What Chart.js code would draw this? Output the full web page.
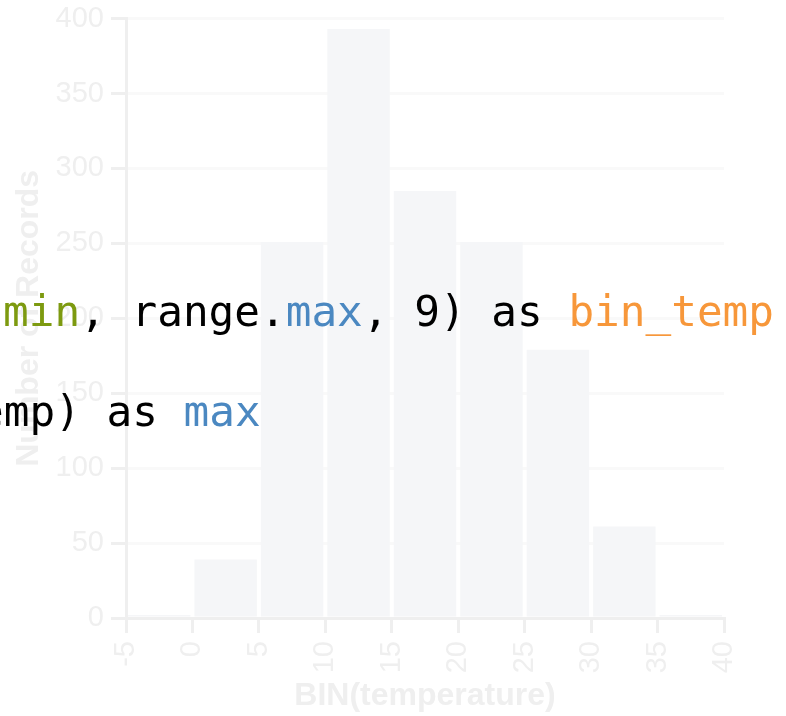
<!DOCTYPE html>
<html>
<head>
<meta charset="utf-8">
<style>
  html, body { margin: 0; padding: 0; background: #fff; }
  #wrap { width: 786px; height: 716px; }
</style>
</head>
<body>
<div id="wrap"><canvas id="hist_chart"></canvas></div>

<script src="https://cdn.jsdelivr.net/npm/chart.js"></script>
<script>
    // bins of width 5, counts
    const bin_starts = [-5, 0, 5, 10, 15, 20, 25, 30, 35];
    const bin_counts = [2, 39, 251, 393, 285, 251, 179, 61, 2];
    const bin_width = 5;

    const x_title = 'BIN(temperature)';
    const y_title = 'Number of Records';

    // code snippet laid over the chart, as [text, colour] runs
    const code_line_1 = [['min', '#7d9a10'], [', range.', '#000'], ['max', '#4b88c1'], [', 9) as ', '#000'], ['bin_temp', '#f7973a']];
    const code_line_2 = [['emp) as ', '#000'], ['max', '#4b88c1']];

    const faint = '#efefef';

    const codeOverlay = {
        id: 'codeOverlay',
        afterDraw(chart) {
            const ctx = chart.ctx;
            ctx.save();
            ctx.font = '42.7px "DejaVu Sans Mono", monospace';
            ctx.textBaseline = 'alphabetic';
            ctx.textAlign = 'left';
            const drawRuns = (runs, x, y) => {
                runs.forEach(([txt, col]) => {
                    ctx.fillStyle = col;
                    ctx.fillText(txt, x, y);
                    x += ctx.measureText(txt).width;
                });
            };
            drawRuns(code_line_1, 3, 326);
            drawRuns(code_line_2, -22, 426);
            ctx.restore();
        }
    };

    const hist_chart = new Chart(document.getElementById('hist_chart'), {
        type: 'bar',
        data: {
            datasets: [{
                label: y_title,
                data: bin_starts.map((s, i) => ({x: s + bin_width / 2, y: bin_counts[i]})),
                backgroundColor: '#f5f6f8',
                borderWidth: 0,
                barPercentage: 0.94,
                categoryPercentage: 1,
            }]
        },
        options: {
            responsive: true,
            maintainAspectRatio: false,
            animation: false,
            layout: {
                padding: {top: 18, right: 62, left: 0, bottom: 0}
            },
            plugins: {
                legend: {display: false},
                tooltip: {enabled: false}
            },
            scales: {
                x: {
                    type: 'linear',
                    min: -5,
                    max: 40,
                    offset: false,
                    grid: {
                        offset: false,
                        drawOnChartArea: false,
                        drawTicks: true,
                        tickLength: 15,
                        tickColor: faint,
                        lineWidth: 3,
                    },
                    border: {display: true, color: '#efefef', width: 3},
                    ticks: {
                        stepSize: 5,
                        minRotation: 90,
                        maxRotation: 90,
                        padding: 8,
                        color: faint,
                        font: {family: '"Liberation Sans", Arial, sans-serif', size: 29}
                    },
                    title: {
                        display: true,
                        text: x_title,
                        color: '#efefef',
                        padding: {top: 0, bottom: 1},
                        font: {family: '"Liberation Sans", Arial, sans-serif', size: 32, weight: 'bold'}
                    },
                    afterFit: (scale) => { scale.height = 98; }
                },
                y: {
                    min: 0,
                    max: 400,
                    grid: {
                        color: '#f9f9f9',
                        lineWidth: 3,
                        drawTicks: true,
                        tickLength: 15,
                        tickColor: faint,
                    },
                    border: {display: true, color: '#efefef', width: 3},
                    ticks: {
                        stepSize: 50,
                        padding: 7,
                        color: faint,
                        font: {family: '"Liberation Sans", Arial, sans-serif', size: 29, lineHeight: 0.8}
                    },
                    title: {
                        display: true,
                        text: y_title,
                        color: '#efefef',
                        padding: {top: 10, bottom: 0},
                        font: {family: '"Liberation Sans", Arial, sans-serif', size: 32, weight: 'bold'}
                    },
                    afterFit: (scale) => { scale.width = 126; }
                }
            }
        },
        plugins: [codeOverlay]
    });
</script>
</body>
</html>
